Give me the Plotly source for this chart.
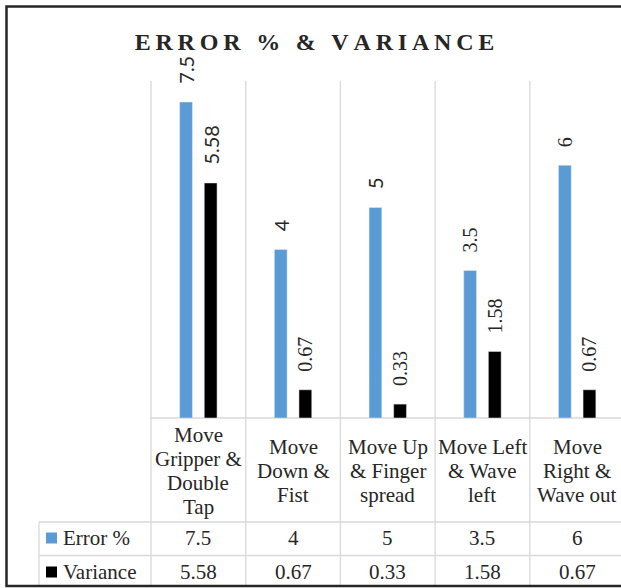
import plotly.graph_objects as go

# ---------------- data ----------------
categories = [
    "Move<br>Gripper &<br>Double<br>Tap",
    "Move<br>Down &<br>Fist",
    "Move Up<br>& Finger<br>spread",
    "Move Left<br>& Wave<br>left",
    "Move<br>Right &<br>Wave out",
]
error_pct = [7.5, 4, 5, 3.5, 6]
variance = [5.58, 0.67, 0.33, 1.58, 0.67]
error_labels = ["7.5", "4", "5", "3.5", "6"]
variance_labels = ["5.58", "0.67", "0.33", "1.58", "0.67"]
series_names = ["Error %", "Variance"]
title_text = "ERROR % & VARIANCE"

# ---------------- styling / layout geometry ----------------
W, H = 621, 588
L, R, T, B = 151, 0, 81, 170
PW, PH = W - L - R, H - T - B
CAT_PX = 94.7
XR = [-0.5, -0.5 + PW / CAT_PX]
YR = [0, 8]

BLUE = "#5B9BD5"
BLACK = "#000000"
GRID = "#D9D9D9"
TXT = "#262626"
SERIF = "Liberation Serif"
SANS = "Lato"


def px_x(px):
    return (px - L) / PW


def px_y(py):
    return (H - B - py) / PH


def cat_x(v):
    return (v - XR[0]) / (XR[1] - XR[0])


pad = "\u00a0\u00a0\u00a0"
err_fonts = [SANS, SANS, SANS, SERIF, SERIF]
var_fonts = [SANS, SERIF, SERIF, SERIF, SERIF]
xs = list(range(len(categories)))

fig = go.Figure()
fig.add_trace(go.Bar(
    x=xs, y=error_pct, name=series_names[0], marker_color=BLUE,
    text=[pad + t for t in error_labels], textposition="outside", textangle=-90,
    textfont=dict(family=err_fonts, size=20, color=TXT),
    constraintext="none", cliponaxis=False,
))
fig.add_trace(go.Bar(
    x=xs, y=variance, name=series_names[1], marker_color=BLACK,
    text=[pad + t for t in variance_labels], textposition="outside", textangle=-90,
    textfont=dict(family=var_fonts, size=20, color=TXT),
    constraintext="none", cliponaxis=False,
))

shapes = []
ann = []
line = dict(color=GRID, width=1.3)
bottom = px_y(586)
# vertical gridlines / table column lines
for k in range(len(categories)):
    xk = cat_x(k - 0.5)
    shapes.append(dict(type="line", xref="paper", yref="paper", x0=xk, x1=xk,
                       y0=bottom, y1=1, line=line, layer="below"))
# table left edge (legend column)
shapes.append(dict(type="line", xref="paper", yref="paper", x0=px_x(39), x1=px_x(39),
                   y0=bottom, y1=px_y(522), line=line, layer="below"))
# horizontal lines
shapes.append(dict(type="line", xref="paper", yref="paper", x0=0, x1=1.05,
                   y0=0, y1=0, line=line, layer="below"))
for py in (522, 555.5):
    shapes.append(dict(type="line", xref="paper", yref="paper", x0=px_x(39), x1=1.05,
                       y0=px_y(py), y1=px_y(py), line=line, layer="below"))

# legend keys in table
for (color, yc) in ((BLUE, 538), (BLACK, 572)):
    shapes.append(dict(type="rect", xref="paper", yref="paper",
                       x0=px_x(46), x1=px_x(57), y0=px_y(yc - 5.5), y1=px_y(yc + 5.5),
                       fillcolor=color, line=dict(width=0)))

# outer frame
shapes.append(dict(type="rect", xref="paper", yref="paper",
                   x0=px_x(6.5), x1=px_x(660), y0=px_y(586), y1=px_y(6.5),
                   line=dict(color=TXT, width=2.5), fillcolor="rgba(0,0,0,0)"))

# row headers
for name, yc in zip(series_names, (538, 572)):
    ann.append(dict(text=name, xref="paper", yref="paper", x=px_x(61), y=px_y(yc),
                    xanchor="left", yanchor="middle", showarrow=False,
                    font=dict(family=SERIF, size=21, color=TXT)))

# category labels (line by line, 24px line spacing)
for i, lab in enumerate(categories):
    lines = lab.split("<br>")
    n = len(lines)
    for j, ln in enumerate(lines):
        yc = 471 + (j - (n - 1) / 2) * 24
        ann.append(dict(text=ln, xref="x", yref="paper", x=i, y=px_y(yc),
                        xanchor="center", yanchor="middle", showarrow=False,
                        font=dict(family=SERIF, size=21, color=TXT)))

# table values
for labels, yc in ((error_labels, 538), (variance_labels, 572)):
    for i, v in enumerate(labels):
        ann.append(dict(text=v, xref="x", yref="paper", x=i, y=px_y(yc),
                        xanchor="center", yanchor="middle", showarrow=False,
                        font=dict(family=SERIF, size=21, color=TXT)))

fig.update_layout(
    width=W, height=H,
    margin=dict(l=L, r=R, t=T, b=B, autoexpand=False),
    paper_bgcolor="white", plot_bgcolor="white",
    showlegend=False,
    barmode="group", bargap=0.48, bargroupgap=0.48,
    title=dict(text="\u2009".join(title_text), xref="paper", x=px_x(314.5),
               xanchor="center", yref="container", y=1 - 42 / H, yanchor="middle",
               font=dict(family=SERIF, size=24, color=TXT, weight="bold")),
    xaxis=dict(range=XR, showgrid=False, showticklabels=False, zeroline=False,
               showline=False, ticks="", fixedrange=True),
    yaxis=dict(range=YR, showgrid=False, showticklabels=False, zeroline=False,
               showline=False, ticks="", fixedrange=True),
    shapes=shapes, annotations=ann,
)

fig.write_html(
    "out.html",
    config={"displayModeBar": False},
    post_script="document.body.style.margin='0';document.body.style.overflow='hidden';",
)
